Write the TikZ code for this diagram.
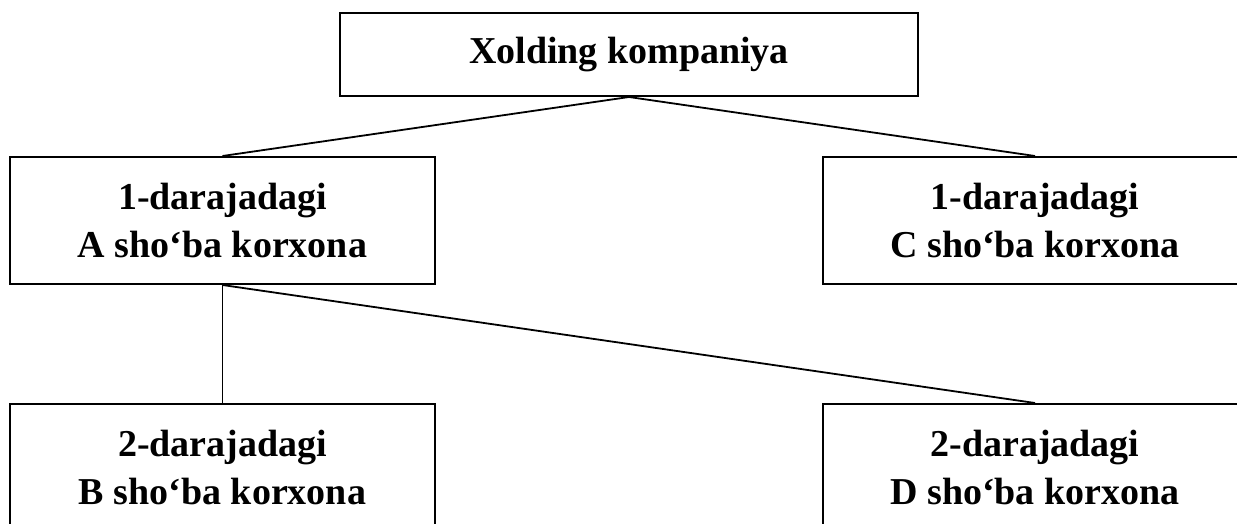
\documentclass[tikz,border=0pt]{standalone}
\usepackage{fontspec}
\setmainfont{Liberation Serif}
\begin{document}
\begin{tikzpicture}[x=1pt,y=-1pt,
  box/.style={draw, line width=2pt, inner sep=0pt, align=center,
    font=\fontsize{38}{48}\selectfont\bfseries},
  link/.style={line width=1.8pt}]
\useasboundingbox (0,0) rectangle (1237,524);
\clip (0,0) rectangle (1237,524);
\node[box, minimum width=578pt, minimum height=83pt] (top) at (629,54.5) {Xolding kompaniya};
\node[box, minimum width=425pt, minimum height=127pt] (A) at (222.5,220.5) {1-darajadagi\\A sho‘ba korxona};
\node[box, minimum width=424pt, minimum height=127pt] (C) at (1035,220.5) {1-darajadagi\\C sho‘ba korxona};
\node[box, minimum width=425pt, minimum height=127pt] (B) at (222.5,467.5) {2-darajadagi\\B sho‘ba korxona};
\node[box, minimum width=424pt, minimum height=127pt] (D) at (1035,467.5) {2-darajadagi\\D sho‘ba korxona};
\draw[link] (top.south) -- (A.north);
\draw[link] (top.south) -- (C.north);
\draw[link] (A.south) -- (B.north);
\draw[link] (A.south) -- (D.north);
\end{tikzpicture}
\end{document}
